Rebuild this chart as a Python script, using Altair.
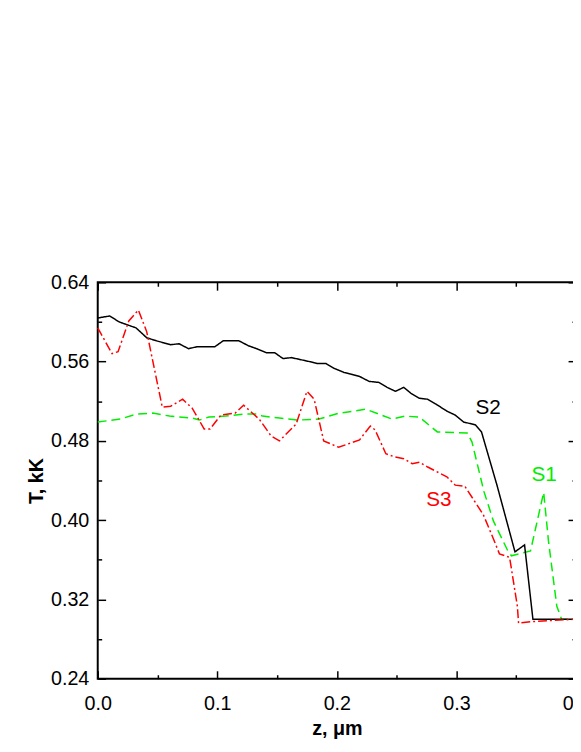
import altair as alt
import pandas as pd

# ---- data ----
s1_z = [0.0, 0.019, 0.032, 0.046, 0.060, 0.079, 0.085, 0.093, 0.107, 0.123, 0.133, 0.138, 0.152,
        0.168, 0.185, 0.202, 0.215, 0.224, 0.235, 0.246, 0.257, 0.269, 0.284, 0.309, 0.313,
        0.323, 0.331, 0.343, 0.346, 0.362, 0.373, 0.377, 0.384, 0.388, 0.400]
s1_T = [0.499, 0.502, 0.507, 0.508, 0.505, 0.503, 0.501, 0.504, 0.505, 0.507, 0.507, 0.505, 0.503,
        0.501, 0.502, 0.508, 0.510, 0.512, 0.507, 0.502, 0.505, 0.504, 0.489, 0.488, 0.479,
        0.429, 0.399, 0.369, 0.364, 0.369, 0.428, 0.379, 0.313, 0.300, 0.300]

s2_z = [0.0, 0.010, 0.018, 0.025, 0.032, 0.041, 0.049, 0.055, 0.061, 0.068, 0.076, 0.083, 0.098,
        0.105, 0.118, 0.126, 0.133, 0.141, 0.148, 0.155, 0.162, 0.177, 0.184, 0.191, 0.198,
        0.206, 0.213, 0.219, 0.227, 0.235, 0.242, 0.249, 0.256, 0.262, 0.269, 0.276, 0.283,
        0.292, 0.299, 0.306, 0.313, 0.316, 0.321, 0.334, 0.349, 0.357, 0.364, 0.380, 0.400]
s2_T = [0.604, 0.606, 0.600, 0.597, 0.594, 0.584, 0.581, 0.579, 0.577, 0.578, 0.573, 0.575, 0.575,
        0.581, 0.581, 0.576, 0.573, 0.569, 0.569, 0.563, 0.564, 0.560, 0.558, 0.558, 0.553,
        0.549, 0.547, 0.545, 0.540, 0.539, 0.534, 0.530, 0.534, 0.528, 0.523, 0.522, 0.517,
        0.510, 0.506, 0.499, 0.497, 0.496, 0.489, 0.435, 0.368, 0.375, 0.300, 0.300, 0.300]

s3_z = [0.0, 0.012, 0.017, 0.026, 0.034, 0.041, 0.054, 0.061, 0.071, 0.079, 0.089, 0.094, 0.103,
        0.115, 0.122, 0.135, 0.145, 0.152, 0.166, 0.175, 0.181, 0.189, 0.2015, 0.219, 0.228,
        0.232, 0.241, 0.248, 0.256, 0.263, 0.269, 0.276, 0.292, 0.299, 0.307, 0.3225, 0.331,
        0.336, 0.3445, 0.351, 0.352, 0.364, 0.400]
s3_T = [0.594, 0.568, 0.570, 0.601, 0.612, 0.590, 0.514, 0.515, 0.522, 0.513, 0.492, 0.492, 0.506,
        0.508, 0.516, 0.502, 0.485, 0.480, 0.497, 0.530, 0.522, 0.480, 0.4735, 0.481, 0.495,
        0.491, 0.467, 0.464, 0.462, 0.457, 0.4585, 0.4536, 0.4437, 0.4353, 0.4343, 0.4055, 0.381,
        0.366, 0.3624, 0.313, 0.296, 0.2977, 0.300]

series_names = ["S1", "S2", "S3"]
series_colors = ["#00ee00", "#000000", "#ff0000"]
series_dashes = [[9, 5], [1, 0], [9, 3, 2, 3]]

label_z = [0.3733, 0.3266, 0.2854]
label_T = [0.4453, 0.5133, 0.4204]

x_major = [0.0, 0.1, 0.2, 0.3, 0.4]
x_minor = [0.05, 0.15, 0.25, 0.35]
y_major = [0.24, 0.32, 0.40, 0.48, 0.56, 0.64]
y_minor = [0.28, 0.36, 0.44, 0.52, 0.60]

rows = []
for name, zs, ts in [("S1", s1_z, s1_T), ("S2", s2_z, s2_T), ("S3", s3_z, s3_T)]:
    for i, (z, t) in enumerate(zip(zs, ts)):
        rows.append({"z": z, "T": t, "series": name, "order": i})
df = pd.DataFrame(rows)
labels_df = pd.DataFrame({"z": label_z, "T": label_T, "series": series_names})

FONT = "Liberation Sans"
xs = alt.Scale(domain=[0.0, 0.4], nice=False, zero=False)
ys = alt.Scale(domain=[0.24, 0.64], nice=False, zero=False)
color_scale = alt.Scale(domain=series_names, range=series_colors)
dash_scale = alt.Scale(domain=series_names, range=series_dashes)

base = alt.Chart(df)

lines = base.mark_line(strokeWidth=1.5).encode(
    x=alt.X("z:Q", scale=xs, axis=alt.Axis(
        orient="bottom", values=x_major, format=".1f", ticks=False, domain=False, grid=False,
        labelPadding=15, labelFontSize=20, labelFont=FONT, labelColor="black", labelFlush=False,
        title="z, μm", titleFont=FONT, titleFontSize=20, titleFontWeight="bold", titleColor="black",
        titleY=57, titleBaseline="alphabetic")),
    y=alt.Y("T:Q", scale=ys, axis=alt.Axis(
        orient="left", values=y_major, format=".2f", ticks=False, domain=False, grid=False,
        labelPadding=9, labelFontSize=20, labelFont=FONT, labelColor="black", labelFlush=False,
        title="T, kK", titleFont=FONT, titleFontSize=20, titleFontWeight="bold", titleColor="black",
        titleX=-56, titleY=201, titleBaseline="alphabetic")),
    color=alt.Color("series:N", scale=color_scale, legend=None),
    strokeDash=alt.StrokeDash("series:N", scale=dash_scale, legend=None),
    order="order:Q",
)


def tick_layer(xorient, yorient, xvals, yvals, size):
    return base.mark_point(opacity=0).encode(
        x=alt.X("z:Q", scale=xs, title=None, axis=alt.Axis(
            orient=xorient, values=xvals, labels=False, domain=False, grid=False, ticks=True,
            tickSize=size, tickWidth=1.5, tickColor="black", offset=-size)),
        y=alt.Y("T:Q", scale=ys, title=None, axis=alt.Axis(
            orient=yorient, values=yvals, labels=False, domain=False, grid=False, ticks=True,
            tickSize=size, tickWidth=1.5, tickColor="black", offset=-size)),
    )


t1 = tick_layer("bottom", "left", x_major, y_major, 8)
t2 = tick_layer("bottom", "left", x_minor, y_minor, 4)
t3 = tick_layer("top", "right", x_major, y_major, 8)
t4 = tick_layer("top", "right", x_minor, y_minor, 4)

texts = alt.Chart(labels_df).mark_text(fontSize=21, font=FONT, baseline="middle", align="center").encode(
    x=alt.X("z:Q", scale=xs, axis=None),
    y=alt.Y("T:Q", scale=ys, axis=None),
    text="series:N",
    color=alt.Color("series:N", scale=color_scale, legend=None),
)

chart = alt.layer(lines, t1, t2, t3, t4, texts).resolve_axis(
    x="independent", y="independent"
).properties(
    width=485, height=402,
    autosize=alt.AutoSizeParams(type="none"),
    padding={"left": 91, "top": 273, "right": -3, "bottom": 57},
    background="white",
).configure_view(stroke="black", strokeWidth=2)

chart.save("out.html", embed_options={"renderer": "svg", "actions": False})
